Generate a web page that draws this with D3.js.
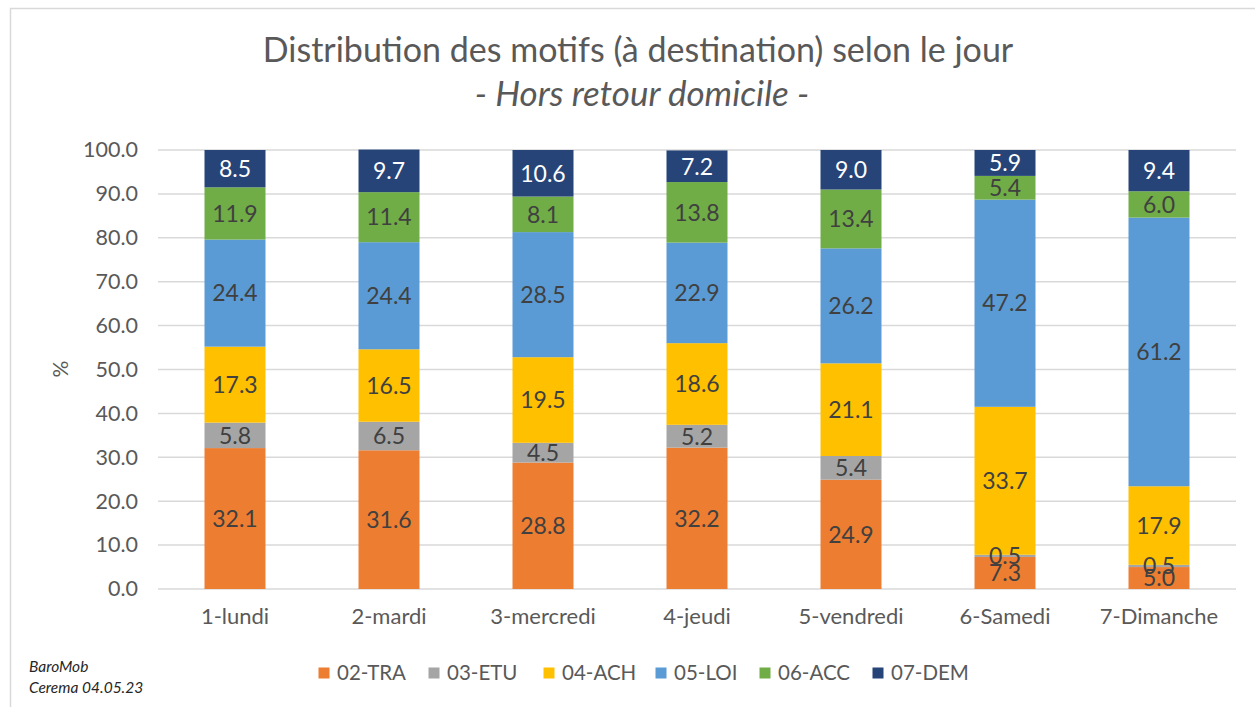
<!DOCTYPE html>
<html>
<head>
<meta charset="utf-8">
<script src="https://cdn.jsdelivr.net/npm/d3@7"></script>
<style>
body { margin: 0; background: #fff; }
svg { font-family: Lato, "Open Sans", sans-serif; }
</style>
</head>
<body>
<div id="chart"></div>
<script>
'use strict';

let days = ['1-lundi', '2-mardi', '3-mercredi', '4-jeudi', '5-vendredi', '6-Samedi', '7-Dimanche'];
let motifs = ['02-TRA', '03-ETU', '04-ACH', '05-LOI', '06-ACC', '07-DEM'];
let colors = ['#ED7D31', '#A5A5A5', '#FFC000', '#5B9BD5', '#70AD47', '#264478'];

let tra = [32.1, 31.6, 28.8, 32.2, 24.9, 7.3, 5.0];
let etu = [5.8, 6.5, 4.5, 5.2, 5.4, 0.5, 0.5];
let ach = [17.3, 16.5, 19.5, 18.6, 21.1, 33.7, 17.9];
let loi = [24.4, 24.4, 28.5, 22.9, 26.2, 47.2, 61.2];
let acc = [11.9, 11.4, 8.1, 13.8, 13.4, 5.4, 6.0];
let dem = [8.5, 9.7, 10.6, 7.2, 9.0, 5.9, 9.4];

let yTicks = [0, 10, 20, 30, 40, 50, 60, 70, 80, 90, 100];

let W = 1255, H = 707;
let svg = d3.select('#chart').append('svg')
	.attr('width', W)
	.attr('height', H)
	;

// chart frame
svg.append('rect')
	.attr('x', 10.5).attr('y', 8.5)
	.attr('width', W + 10).attr('height', H + 10)
	.attr('fill', 'none')
	.attr('stroke', '#d9d9d9')
	.attr('stroke-width', 1.5)
	;

let series = [tra, etu, ach, loi, acc, dem];
let table = days.map(function(d, i) {
	let row = {day: d};
	for (let k=0 ; k<motifs.length ; ++k) {
		row[motifs[k]] = series[k][i];
	}
	return row;
});
let stacked = d3.stack().keys(motifs)(table);

let x = d3.scaleBand()
	.domain(days)
	.range([158, 1236])
	.paddingInner(0.604)
	.paddingOuter(0.302)
	;
let y = d3.scaleLinear()
	.domain([0, 100])
	.range([589, 150])
	;

// gridlines
svg.append('g')
	.selectAll('line')
	.data(yTicks)
	.join('line')
		.attr('x1', 158).attr('x2', 1236)
		.attr('y1', d => y(d)).attr('y2', d => y(d))
		.attr('stroke', '#d9d9d9')
		.attr('stroke-width', 1.5)
	;

// y axis labels
let yAxis = svg.append('g')
	.attr('transform', 'translate(150,0)')
	.call(d3.axisLeft(y).tickValues(yTicks).tickFormat(d3.format('.1f')).tickSize(0).tickPadding(12))
	;
yAxis.select('.domain').remove();
yAxis.selectAll('text')
	.attr('fill', '#595959')
	.style('font-size', '21.5px')
	.style('font-family', 'Lato, sans-serif')
	;

// x axis labels
let xAxis = svg.append('g')
	.attr('transform', 'translate(0,589)')
	.call(d3.axisBottom(x).tickSize(0).tickPadding(19))
	;
xAxis.select('.domain').remove();
xAxis.selectAll('text')
	.attr('fill', '#595959')
	.style('font-size', '22px')
	.style('font-family', 'Lato, sans-serif')
	;

// bars
let layers = svg.append('g')
	.selectAll('g')
	.data(stacked)
	.join('g')
		.attr('fill', (d, i) => colors[i])
	;
layers.selectAll('rect')
	.data(d => d)
	.join('rect')
		.attr('x', d => x(d.data.day))
		.attr('y', d => y(d[1]))
		.attr('width', x.bandwidth())
		.attr('height', d => y(d[0]) - y(d[1]))
	;

// value labels
let lbls = svg.append('g')
	.selectAll('g')
	.data(stacked)
	.join('g')
		.attr('fill', (d, i) => motifs[i] == '07-DEM' ? '#ffffff' : '#404040')
	;
lbls.selectAll('text')
	.data(d => d)
	.join('text')
		.attr('x', d => x(d.data.day) + x.bandwidth()/2)
		.attr('y', d => (y(d[0]) + y(d[1]))/2)
		.attr('dy', '0.36em')
		.attr('text-anchor', 'middle')
		.style('font-size', '23px')
		.text(d => d3.format('.1f')(d[1] - d[0]))
	;

// title
svg.append('text')
	.attr('x', 638).attr('y', 62)
	.attr('text-anchor', 'middle')
	.attr('fill', '#595959')
	.style('font-size', '34px')
	.text('Distribution des motifs (à destination) selon le jour');
svg.append('text')
	.attr('x', 642).attr('y', 106)
	.attr('text-anchor', 'middle')
	.attr('fill', '#595959')
	.style('font-size', '35px')
	.style('font-style', 'italic')
	.text('- Hors retour domicile -');

// y title
svg.append('text')
	.attr('transform', 'translate(68,369) rotate(-90)')
	.attr('text-anchor', 'middle')
	.attr('fill', '#595959')
	.style('font-size', '21px')
	.text('%');

// legend
let legX = [324, 434, 549, 661, 765, 878];
let leg = svg.append('g')
	.selectAll('g')
	.data(motifs)
	.join('g')
		.attr('transform', (d, i) => 'translate(' + legX[i] + ',673)')
	;
leg.append('rect')
	.attr('x', -5.5).attr('y', -5.5)
	.attr('width', 11).attr('height', 11)
	.attr('fill', (d, i) => colors[i])
	;
leg.append('text')
	.attr('x', 13).attr('dy', '0.36em')
	.attr('fill', '#595959')
	.style('font-size', '20.5px')
	.text(d => d);

// source note
let note = svg.append('text')
	.attr('fill', '#262626')
	.style('font-size', '15.5px')
	.style('font-style', 'italic')
	;
note.append('tspan').attr('x', 29).attr('y', 672).text('BaroMob');
note.append('tspan').attr('x', 29).attr('y', 693).text('Cerema 04.05.23');
</script>
</body>
</html>
